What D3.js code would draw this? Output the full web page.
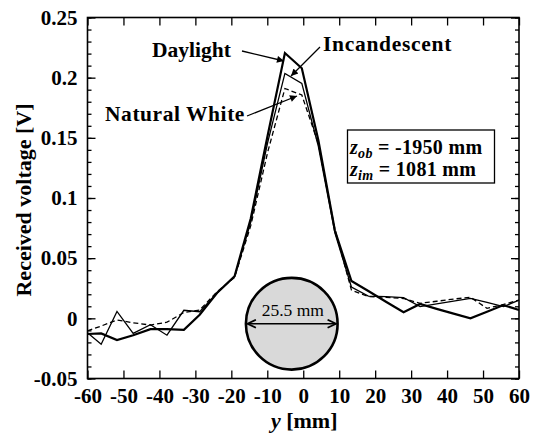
<!DOCTYPE html>
<html>
<head>
<meta charset="utf-8">
<script src="https://cdn.jsdelivr.net/npm/d3@7/dist/d3.min.js"></script>
<style>
  html, body { margin: 0; padding: 0; background: #fff; }
  svg { display: block; font-family: "Liberation Serif", "Times New Roman", serif; }
</style>
</head>
<body>
<svg id="chart" width="539" height="437"></svg>
<script>
// Lateral position of the receiver [mm]
const positions = [-60, -56.2, -51.8, -47.3, -42.5, -37.9, -33.2, -28.8, -24, -19.1, -14.6, -9.9, -5.1, -0.4,
                   4.2, 8.8, 13.4, 18.1, 23, 27.9, 32.5, 37.1, 41.8, 46.5, 51.1, 55.7, 60];

// Received voltage [V] for each lamp type
const daylight = [-0.013, -0.0125, -0.018, -0.014, -0.009, -0.009, -0.0095, 0.003, 0.021, 0.035, 0.083, 0.152, 0.2205, 0.2078,
                  0.148, 0.073, 0.031, 0.0227, 0.0138, 0.005, 0.0119, 0.0079, 0.0039, 0.0, 0.0055, 0.011, 0.0069];
const incandescent = [-0.012, -0.0216, 0.0057, -0.0125, -0.0053, -0.014, 0.0067, 0.0055, 0.0208, 0.0346, 0.080, 0.146, 0.2035, 0.1953,
                      0.143, 0.071, 0.026, 0.0185, 0.018, 0.0172, 0.0097, 0.012, 0.0143, 0.0166, 0.0132, 0.0097, 0.0152];
const naturalWhite = [-0.0104, -0.0064, -0.0014, -0.0037, -0.0056, -0.0032, 0.0048, 0.0069, 0.022, 0.034, 0.077, 0.138, 0.191, 0.1856,
                      0.145, 0.074, 0.0235, 0.018, 0.0175, 0.0165, 0.0125, 0.0142, 0.016, 0.0175, 0.0083, 0.0115, 0.0152];

// Axis ticks
const xTicks = [-60, -50, -40, -30, -20, -10, 0, 10, 20, 30, 40, 50, 60];
const yTicks = [-0.05, 0, 0.05, 0.1, 0.15, 0.2, 0.25];
const yTickLabels = ["-0.05", "0", "0.05", "0.1", "0.15", "0.2", "0.25"];
const yMinorTicks = d3.range(-50, 251, 10).map(v => v / 1000);

// Target: a 25.5 mm disc centred near the peak
const targetDiameter = 25.5;
const targetCentre = [-3.2, -0.0045];

const svg = d3.select("#chart");
const plotL = 87.5, plotR = 519, plotT = 17.5, plotB = 378.5;

const x = d3.scaleLinear().domain([-60, 60]).range([plotL, plotR]);
const y = d3.scaleLinear().domain([-0.05, 0.25]).range([plotB, plotT]);

// Arrow markers
const defs = svg.append("defs");
defs.append("marker")
  .attr("id", "head").attr("viewBox", "0 0 10 10").attr("refX", 10).attr("refY", 5)
  .attr("markerWidth", 10).attr("markerHeight", 7).attr("markerUnits", "userSpaceOnUse")
  .attr("orient", "auto")
  .append("path").attr("d", "M0,0 L10,5 L0,10 Z").attr("fill", "#000");
defs.append("marker")
  .attr("id", "chev").attr("viewBox", "0 0 10 10").attr("refX", 9.5).attr("refY", 5)
  .attr("markerWidth", 10).attr("markerHeight", 10).attr("markerUnits", "userSpaceOnUse")
  .attr("orient", "auto-start-reverse")
  .append("path").attr("d", "M1,1 L9.5,5 L1,9").attr("fill", "none").attr("stroke", "#000").attr("stroke-width", 1.8);

// Target disc
const r = (x(targetDiameter) - x(0)) / 2;
const cx = x(targetCentre[0]), cy = y(targetCentre[1]);
svg.append("circle").attr("cx", cx).attr("cy", cy).attr("r", r)
  .attr("fill", "#d9d9d9").attr("stroke", "#000").attr("stroke-width", 2.6);
svg.append("line")
  .attr("x1", cx - r + 1.5).attr("x2", cx + r - 1.5).attr("y1", cy).attr("y2", cy)
  .attr("stroke", "#000").attr("stroke-width", 1.6)
  .attr("marker-start", "url(#chev)").attr("marker-end", "url(#chev)");
svg.append("text").attr("x", cx + 1).attr("y", cy - 8)
  .attr("text-anchor", "middle").attr("font-size", 17.5).text("25.5 mm");

// Curves
const line = d3.line().x((d, i) => x(positions[i])).y(d => y(d));
svg.append("path").datum(naturalWhite).attr("d", line)
  .attr("fill", "none").attr("stroke", "#000").attr("stroke-width", 1.3).attr("stroke-dasharray", "5,3");
svg.append("path").datum(incandescent).attr("d", line)
  .attr("fill", "none").attr("stroke", "#000").attr("stroke-width", 1.3);
svg.append("path").datum(daylight).attr("d", line)
  .attr("fill", "none").attr("stroke", "#000").attr("stroke-width", 2.2);

// Frame and ticks
const major = 8, minor = 4;
svg.append("g").attr("transform", `translate(0,${plotB})`)
  .call(d3.axisBottom(x).tickValues(xTicks).tickSizeInner(-major).tickSizeOuter(0).tickPadding(12)
    .tickFormat(d => d))
  .call(g => g.selectAll("text").attr("font-size", 21).attr("font-weight", "bold").attr("fill", "#000")
    .attr("font-family", "Liberation Serif").attr("dy", "0.6em"));
svg.append("g").attr("transform", `translate(0,${plotT})`)
  .call(d3.axisTop(x).tickValues(xTicks).tickSizeInner(-major).tickSizeOuter(0).tickFormat(""));
svg.append("g").attr("transform", `translate(${plotL},0)`)
  .call(d3.axisLeft(y).tickValues(yMinorTicks).tickSizeInner(-minor).tickSizeOuter(0).tickFormat(""));
svg.append("g").attr("transform", `translate(${plotR},0)`)
  .call(d3.axisRight(y).tickValues(yMinorTicks).tickSizeInner(-minor).tickSizeOuter(0).tickFormat(""));
svg.append("g").attr("transform", `translate(${plotR},0)`)
  .call(d3.axisRight(y).tickValues(yTicks).tickSizeInner(-major).tickSizeOuter(0).tickFormat(""));
svg.append("g").attr("transform", `translate(${plotL},0)`)
  .call(d3.axisLeft(y).tickValues(yTicks).tickSizeInner(-major).tickSizeOuter(0).tickPadding(10)
    .tickFormat((d, i) => yTickLabels[i]))
  .call(g => g.selectAll("text").attr("font-size", 21).attr("font-weight", "bold").attr("fill", "#000")
    .attr("font-family", "Liberation Serif"));
svg.selectAll(".domain").remove();
svg.selectAll(".tick line").attr("stroke", "#000").attr("stroke-width", 1.3);
svg.append("rect").attr("x", plotL).attr("y", plotT).attr("width", plotR - plotL).attr("height", plotB - plotT)
  .attr("fill", "none").attr("stroke", "#000").attr("stroke-width", 1.6);

// Axis titles
svg.append("text").attr("x", (plotL + plotR) / 2 + 1).attr("y", 428)
  .attr("text-anchor", "middle").attr("font-size", 22).attr("font-weight", "bold")
  .call(t => {
    t.append("tspan").attr("font-style", "italic").text("y");
    t.append("tspan").text(" [mm]");
  });
svg.append("text").attr("transform", `translate(31,${(plotT + plotB) / 2 + 2}) rotate(-90)`)
  .attr("text-anchor", "middle").attr("font-size", 22).attr("font-weight", "bold")
  .text("Received voltage [V]");

// Curve labels with arrows
const labels = [
  { text: "Daylight", tx: 152, ty: 57, size: 21.5, spacing: 0, from: [242, 51], to: [284, 61] },
  { text: "Incandescent", tx: 323, ty: 51, size: 21.5, spacing: 0.7, from: [320, 47], to: [291, 76] },
  { text: "Natural White", tx: 105, ty: 121, size: 21.5, spacing: 0.55, from: [247, 116], to: [297, 96] }
];
labels.forEach(l => {
  svg.append("text").attr("x", l.tx).attr("y", l.ty).attr("font-size", l.size).attr("font-weight", "bold")
    .attr("letter-spacing", l.spacing).text(l.text);
  svg.append("line").attr("x1", l.from[0]).attr("y1", l.from[1]).attr("x2", l.to[0]).attr("y2", l.to[1])
    .attr("stroke", "#000").attr("stroke-width", 1.3).attr("marker-end", "url(#head)");
});

// Geometry box
svg.append("rect").attr("x", 347.5).attr("y", 130).attr("width", 147).attr("height", 53)
  .attr("fill", "#fff").attr("stroke", "#000").attr("stroke-width", 1.3);
const boxLines = [
  { sub: "ob", rest: " = -1950 mm", yb: 153.5 },
  { sub: "im", rest: " = 1081 mm", yb: 175.5 }
];
boxLines.forEach(b => {
  const t = svg.append("text").attr("x", 350).attr("y", b.yb).attr("font-size", 20).attr("font-weight", "bold")
    .attr("letter-spacing", 0.3);
  t.append("tspan").attr("font-style", "italic").text("z");
  t.append("tspan").attr("font-style", "italic").attr("font-size", 14).attr("dy", 4).text(b.sub);
  t.append("tspan").attr("dy", -4).text(b.rest);
});
</script>
</body>
</html>
